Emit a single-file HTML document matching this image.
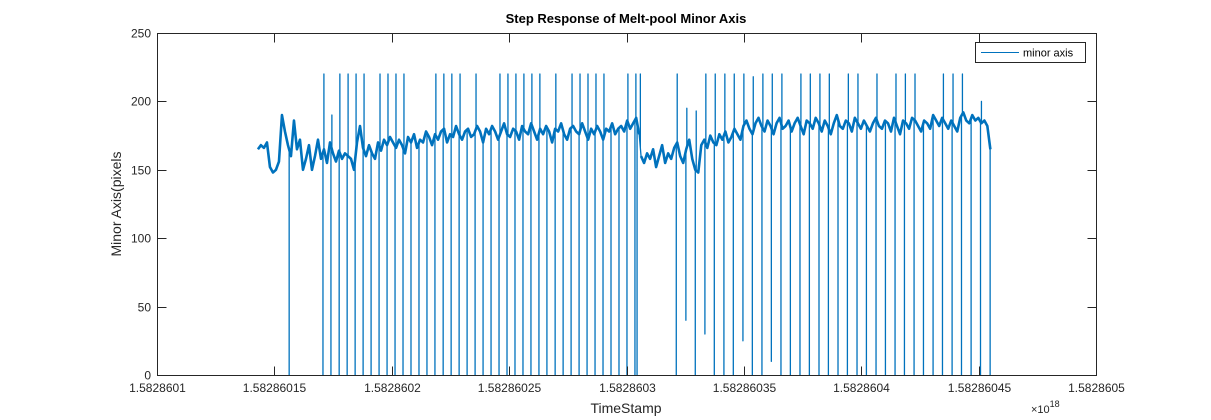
<!DOCTYPE html>
<html><head><meta charset="utf-8"><style>
html,body{margin:0;padding:0;background:#fff;}
svg{display:block;font-family:"Liberation Sans",Arial,sans-serif;}
</style></head><body>
<svg id="chart" width="1211" height="420" viewBox="0 0 1211 420" xmlns="http://www.w3.org/2000/svg">
<rect x="0" y="0" width="1211" height="420" fill="#fff"/>
<rect x="157" y="33" width="939" height="342" fill="#fff"/>
<g id="series"></g>
<g id="axes"></g>
<text x="626" y="23" text-anchor="middle" font-size="13" font-weight="bold" fill="#000">Step Response of Melt-pool Minor Axis</text>
<text x="626" y="413" text-anchor="middle" font-size="14" fill="#262626">TimeStamp</text>
<text x="1031" y="413" font-size="11" fill="#262626">×10<tspan dy="-6" font-size="9">18</tspan></text>
<text transform="translate(121,204) rotate(-90)" text-anchor="middle" font-size="14" fill="#262626">Minor Axis(pixels</text>
<g>
<rect x="975.5" y="42.5" width="110" height="20" fill="#fff" stroke="#262626" stroke-width="1"/>
<line x1="981" y1="52.5" x2="1019" y2="52.5" stroke="#0072BD" stroke-width="1"/>
<text x="1023" y="56.5" font-size="11" fill="#000">minor axis</text>
</g>
</svg>
<script>
// time offsets in units of 1e10 from 1.5828601e18
const seg1Start = 4.30, seg1End = 20.54;
const seg1Values = [165,168,166,170,152,148,150,156,190,178,168,160,186,165,172,150,158,168,150,160,172,158,165,155,170,162,156,164,158,162,160,158,150,170,182,166,160,168,162,158,170,164,172,168,174,170,166,172,168,162,174,170,176,166,172,170,178,174,168,176,172,178,180,170,176,174,182,176,172,178,180,174,176,182,178,170,180,176,182,178,172,178,184,176,174,180,178,172,182,178,176,184,178,172,180,176,182,178,170,180,178,184,176,172,180,182,178,176,184,178,172,180,176,182,178,172,180,178,184,176,180,182,178,186,180,184,188,176];
const seg2Start = 20.62, seg2End = 35.50;
const seg2Values = [160,155,162,158,165,152,160,168,155,162,158,166,170,160,155,165,172,158,150,148,168,172,166,175,170,168,176,172,178,170,174,180,176,172,182,186,180,176,184,188,182,178,186,182,176,184,188,180,182,186,178,184,188,182,176,186,184,180,188,184,178,186,182,176,184,190,182,180,186,184,178,188,184,180,186,182,178,184,188,182,180,186,184,178,188,182,176,186,184,180,188,186,182,178,186,184,180,190,186,182,188,184,180,186,182,178,188,192,186,184,190,186,188,184,186,182,165];
const downTimes = [5.63,7.07,7.41,7.76,8.10,8.44,8.78,9.12,9.46,9.80,10.14,10.48,10.82,11.16,11.50,11.84,12.19,12.53,12.87,13.21,13.55,13.89,14.23,14.57,14.91,15.25,15.59,15.93,16.27,16.61,16.96,17.30,17.64,17.98,18.32,18.66,19.00,19.34,19.68,20.02,20.36,20.45,
22.12,22.53,22.93,23.34,23.74,24.15,24.55,24.96,25.36,25.77,26.17,26.58,26.98,27.39,27.79,28.20,28.60,29.01,29.41,29.82,30.22,30.63,31.03,31.44,31.84,32.25,32.65,33.06,33.46,33.87,34.27,34.68,35.08,35.49];
const downValues = [0,0,0,0,0,0,0,0,0,0,0,0,0,0,0,0,0,0,0,0,0,0,0,0,0,0,0,0,0,0,0,0,0,0,0,0,0,0,0,0,0,0,
0,40,0,30,0,0,0,25,0,0,10,0,0,0,0,0,0,0,0,0,0,0,0,0,0,0,0,0,0,0,0,0,0,0];
const upTimes = [7.11,7.45,7.79,8.14,8.48,8.82,9.50,9.84,10.18,10.52,11.88,12.22,12.56,12.91,13.59,14.61,14.95,15.29,15.63,15.97,16.31,16.99,17.68,18.02,18.36,18.70,19.04,20.06,20.40,20.59,
22.16,22.57,22.97,23.38,23.78,24.19,24.59,25.00,25.40,25.81,26.21,26.62,27.43,27.83,28.24,28.64,29.45,29.86,30.67,31.48,31.88,32.29,33.50,33.91,34.31,35.12];
const upValues = [220,190,220,220,220,220,220,220,220,220,220,220,220,220,220,220,220,220,220,220,220,220,220,220,220,220,220,220,220,220,
220,195,193,220,220,220,220,220,218,220,220,220,220,220,220,220,220,220,220,220,220,220,220,220,220,200];
const xTickValues = [0,5,10,15,20,25,30,35,40];
const xTickLabels = ["1.5828601","1.58286015","1.5828602","1.58286025","1.5828603","1.58286035","1.5828604","1.58286045","1.5828605"];
const yTickValues = [0,50,100,150,200,250];

const L=157,R=1096,T=33,B=375;
const xs = t => L + (t-0)/(40-0)*(R-L);
const ys = v => B - (v-0)/(250-0)*(B-T);
const NS="http://www.w3.org/2000/svg";
const svg=document.getElementById('chart');
const series=document.getElementById('series');
const axes=document.getElementById('axes');

let base=[];
function addSeg(s,e,vals){for(let i=0;i<vals.length;i++){base.push([s+(e-s)*i/(vals.length-1),vals[i]]);}}
addSeg(seg1Start,seg1End,seg1Values);
const seg1Count=base.length;
addSeg(seg2Start,seg2End,seg2Values);
function baseAt(t){
  for(let i=0;i<base.length-1;i++){ if(base[i][0]<=t && base[i+1][0]>=t){const f=(t-base[i][0])/((base[i+1][0]-base[i][0])||1);return base[i][1]+f*(base[i+1][1]-base[i][1]);} }
  return base[base.length-1][1];
}
let pts=base.map(p=>[p[0],p[1],0]);
downTimes.forEach((t,i)=>{const b=baseAt(t);pts.push([t,b,1],[t,downValues[i],2],[t,b,3]);});
upTimes.forEach((t,i)=>{const b=baseAt(t);pts.push([t,b,1],[t,upValues[i],2],[t,b,3]);});
pts.sort((a,b)=>a[0]-b[0]||a[2]-b[2]);
let d=pts.map((p,i)=>(i?'L':'M')+xs(p[0]).toFixed(2)+' '+ys(p[1]).toFixed(2)).join(' ');
const path=document.createElementNS(NS,'path');
path.setAttribute('d',d);path.setAttribute('fill','none');path.setAttribute('stroke','#0072BD');path.setAttribute('stroke-width','1.3');path.setAttribute('stroke-linejoin','round');


series.appendChild(path);

[base.slice(0,seg1Count),base.slice(seg1Count)].forEach(seg=>{
  const p=document.createElementNS(NS,'path');
  p.setAttribute('d',seg.map((q,i)=>(i?'L':'M')+xs(q[0]).toFixed(2)+' '+ys(q[1]).toFixed(2)).join(' '));
  p.setAttribute('fill','none');p.setAttribute('stroke','#0072BD');p.setAttribute('stroke-width','2.6');p.setAttribute('stroke-linejoin','round');
  
  
  series.appendChild(p);
});

const box=document.createElementNS(NS,'rect');
box.setAttribute('x',L+0.5);box.setAttribute('y',T+0.5);box.setAttribute('width',R-L);box.setAttribute('height',B-T);
box.setAttribute('fill','none');box.setAttribute('stroke','#262626');box.setAttribute('stroke-width','1');


axes.appendChild(box);

xTickValues.forEach((v,i)=>{
  const x=Math.round(xs(v))+0.5;
  const tk=document.createElementNS(NS,'path');
  tk.setAttribute('d',`M${x} ${B+0.5}V${B-8.5}M${x} ${T+0.5}V${T+9.5}`);tk.setAttribute('stroke','#262626');
  
  
  axes.appendChild(tk);
  const tx=document.createElementNS(NS,'text');
  tx.setAttribute('x',x);tx.setAttribute('y',B+17);tx.setAttribute('text-anchor','middle');tx.setAttribute('font-size','12');tx.setAttribute('fill','#262626');
  tx.textContent=xTickLabels[i];
  
  
  axes.appendChild(tx);
});
yTickValues.forEach(v=>{
  const y=Math.round(ys(v))+0.5;
  const tk=document.createElementNS(NS,'path');
  tk.setAttribute('d',`M${L+0.5} ${y}H${L+9.5}M${R+0.5} ${y}H${R-8.5}`);tk.setAttribute('stroke','#262626');
  
  
  axes.appendChild(tk);
  const tx=document.createElementNS(NS,'text');
  tx.setAttribute('x',L-6);tx.setAttribute('y',y+4);tx.setAttribute('text-anchor','end');tx.setAttribute('font-size','12');tx.setAttribute('fill','#262626');
  tx.textContent=String(v);
  
  
  axes.appendChild(tx);
});
</script>
</body></html>
